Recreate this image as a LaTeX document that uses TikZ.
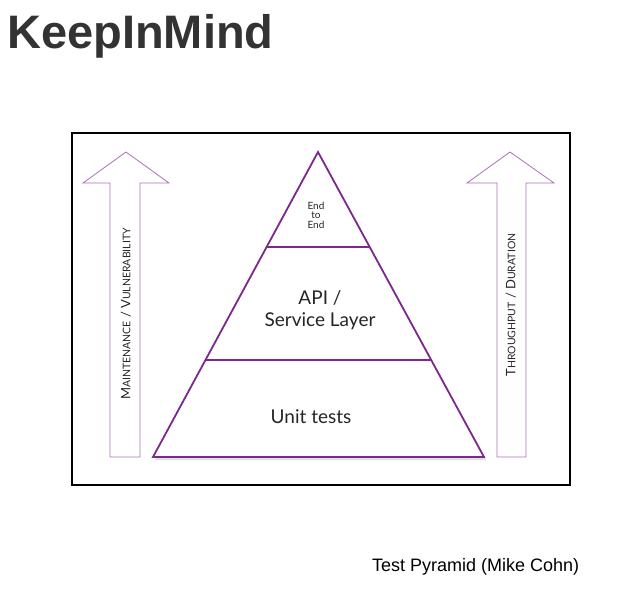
\documentclass[tikz,border=0pt]{standalone}
\usepackage{fontspec}
\setmainfont{Liberation Sans}
\newfontfamily\gillfont{Lato}
\usepackage{tikz}
\usetikzlibrary{positioning,calc}
\definecolor{pyrpurple}{RGB}{125,40,140}
\definecolor{arrpurple}{RGB}{175,110,185}
\definecolor{titlegray}{RGB}{51,51,51}
\newcommand{\fakesc}[2]{#1{\fontsize{10.5}{10.5}\selectfont #2}}

\begin{document}
\begin{tikzpicture}[x=1pt, y=-1pt,
  layer/.style={draw=pyrpurple, line width=1.8pt, line join=miter},
  bigarrow/.style={draw=arrpurple, line width=0.8pt, fill=white},
  lbl/.style={font=\gillfont\fontsize{19}{22}\selectfont, text=black!85, align=center},
  sidelbl/.style={font=\gillfont\fontsize{13}{13}\selectfont, text=black!85, rotate=90},
]
  \useasboundingbox (0,0) rectangle (627,590);
  % title and caption
  \node[anchor=base west, inner sep=0, text=titlegray,
        font=\bfseries\fontsize{47}{47}\selectfont] (title) at (7,48) {KeepInMind};
  \node[anchor=base west, inner sep=0, font=\fontsize{18}{18}\selectfont] (caption)
    at (372,571) {Test Pyramid (Mike Cohn)};

  % frame
  \draw[line width=1.6pt] (72,133) rectangle (570,485);

  % side arrows
  \draw[bigarrow] (110,457) -- (110,183) -- (83,183) -- (126,152) -- (169,183)
    -- (140,183) -- (140,457) -- cycle;
  \draw[bigarrow] (497,457) -- (497,183) -- (467,183) -- (510,152) -- (554,183)
    -- (526,183) -- (526,457) -- cycle;
  \node[sidelbl] (maint) at (126,314) {\fakesc{M}{AINTENANCE} / \fakesc{V}{ULNERABILITY}};
  \node[sidelbl] (thru) at (511,305) {\fakesc{T}{HROUGHPUT} / \fakesc{D}{URATION}};

  % pyramid
  \coordinate (apex) at (318,152);
  \coordinate (bl) at (153,457);
  \coordinate (br) at (484,457);
  \fill[black, opacity=0.12] ($(apex)+(2,3)$) -- ($(bl)+(2,3)$) -- ($(br)+(2,3)$) -- cycle;
  \fill[white] (apex) -- (bl) -- (br) -- cycle;
  \draw[layer] (apex) -- (bl) -- (br) -- cycle;
  \draw[layer] ($(apex)!0.311!(bl)$) coordinate (t1) -- ($(apex)!0.311!(br)$) coordinate (t2);
  \draw[layer] ($(apex)!0.682!(bl)$) coordinate (m1) -- ($(apex)!0.682!(br)$) coordinate (m2);

  \node[lbl, font=\gillfont\fontsize{10}{9.5}\selectfont] (e2e) at (316,215) {End\\to\\End};
  \node[lbl] (api) at (320,310) {API /\\Service Layer};
  \node[lbl] (unit) at (311,417) {Unit tests};
\end{tikzpicture}
\end{document}
